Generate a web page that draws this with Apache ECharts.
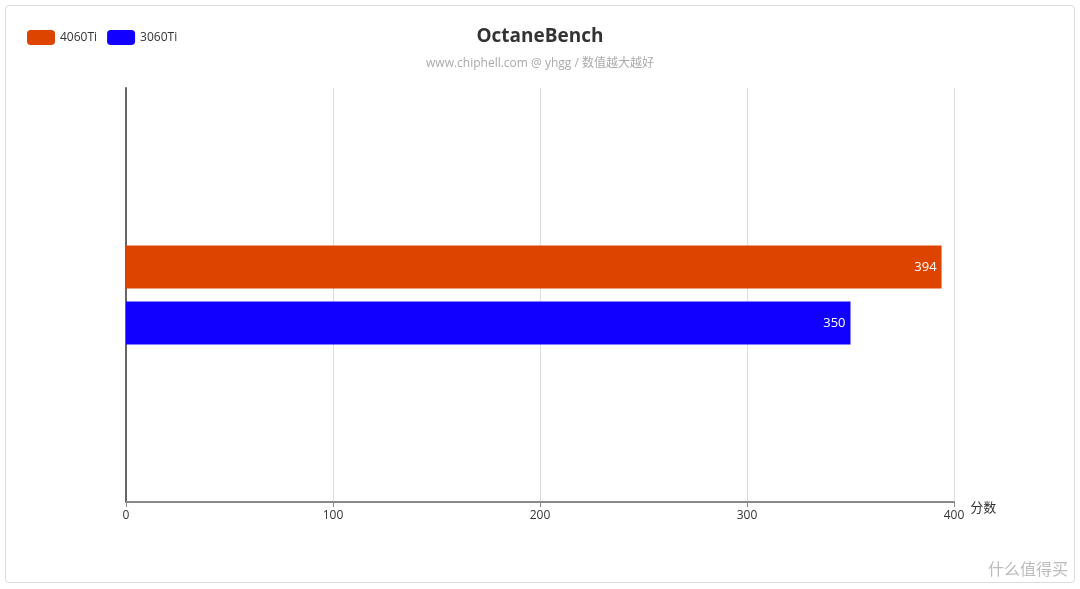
<!DOCTYPE html>
<html><head><meta charset="utf-8">
<script src="https://cdn.jsdelivr.net/npm/echarts@6/dist/echarts.min.js"></script>
<style>html,body{margin:0;padding:0;background:#fff}
#box{position:absolute;left:5px;top:5px;width:1068px;height:576px;border:1px solid #ddd;border-radius:4px}
#c{width:1080px;height:589px;position:absolute;left:0;top:0}</style>
</head><body><div id="box"></div><div id="c"></div>
<script>
const categories = ['OctaneBench'];
const seriesNames = ['4060Ti', '3060Ti'];
const values4060 = [394];
const values3060 = [350];
const colors = ['#DD4400', '#1100FF'];
const chart = echarts.init(document.getElementById('c'));
const font = 'Open Sans, Noto Sans CJK SC, sans-serif';
chart.setOption({
  textStyle:{fontFamily:font},
  title:{text:'OctaneBench',subtext:'www.chiphell.com @ yhgg / 数值越大越好',left:'center',top:22,itemGap:12,
    textStyle:{fontSize:19,fontWeight:'bold',color:'#333',fontFamily:font},
    subtextStyle:{fontSize:12,color:'#aaa',fontFamily:font}},
  legend:{left:22,top:25,itemWidth:28,itemHeight:15,itemGap:10,textStyle:{fontSize:12,color:'#333'},data:seriesNames},
  grid:{left:126,right:126,top:88,bottom:87,containLabel:false},
  xAxis:{type:'value',min:0,max:400,interval:100,name:'分数',nameGap:16,
    nameTextStyle:{color:'#333',fontSize:13,verticalAlign:'top'},
    axisLine:{show:true,lineStyle:{color:'#888',width:2}},axisTick:{show:true,lineStyle:{color:'#888'}},
    axisLabel:{color:'#333',fontSize:12},splitLine:{lineStyle:{color:'#ddd'}}},
  yAxis:{type:'category',data:categories,axisLabel:{show:false},axisTick:{show:false},
    axisLine:{lineStyle:{color:'#666',width:2}}},
  series:[
    {name:seriesNames[0],type:'bar',data:values4060,barWidth:43,barGap:'30%',itemStyle:{color:colors[0]},
     label:{show:true,position:'insideRight',color:'#fff',fontSize:13}},
    {name:seriesNames[1],type:'bar',data:values3060,barWidth:43,barGap:'30%',itemStyle:{color:colors[1]},
     label:{show:true,position:'insideRight',color:'#fff',fontSize:13}}
  ],
  graphic:[{type:'text',right:12,bottom:12,style:{text:'什么值得买',fill:'#bbb',font:'16px Noto Sans CJK SC'}}]
});
</script></body></html>
